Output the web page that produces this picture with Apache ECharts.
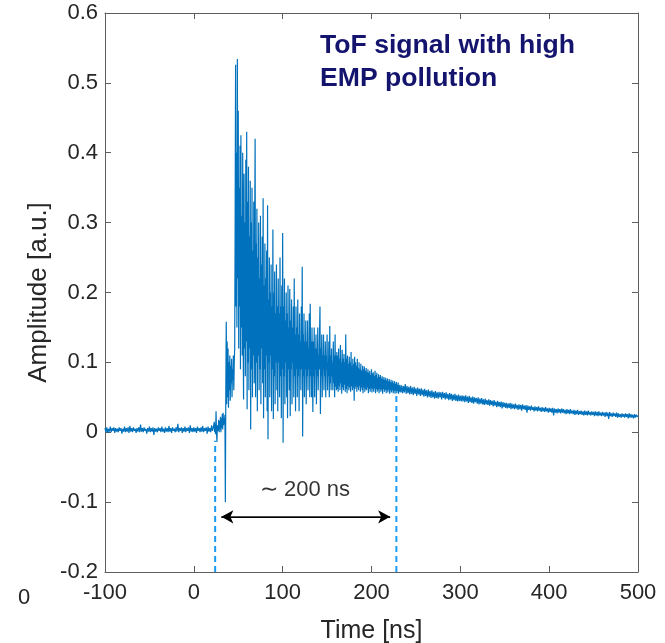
<!DOCTYPE html>
<html>
<head>
<meta charset="utf-8">
<script src="https://cdn.jsdelivr.net/npm/echarts@6/dist/echarts.min.js"></script>
<style>html,body{margin:0;padding:0;background:#fff;}#c{width:665px;height:643px;}</style>
</head>
<body>
<div id="c"></div>
<script>
// ---- axis settings ----
const xMin = -100, xMax = 500, xStep = 100;
const yMin = -0.2, yMax = 0.6, yStep = 0.1;
const xTitle = 'Time [ns]';
const yTitle = 'Amplitude [a.u.]';
const noteTitle = 'ToF signal with high\nEMP pollution';
const arrowText = '\u223C 200 ns';

const baselineStart = -100, baselineStep = 1;
const baseline = [0.006,0.000,0.007,-0.001,0.005,0.001,0.008,0.000,0.006,0.002,
0.007,-0.001,0.006,0.001,0.005,0.000,0.007,0.002,0.006,-0.002,
0.005,0.001,0.008,0.000,0.006,0.001,0.007,-0.001,0.009,0.001,
0.006,0.000,0.007,0.002,0.005,-0.001,0.006,0.001,0.007,0.000,
0.011,0.001,0.006,0.000,0.007,0.002,0.005,-0.002,0.006,0.001,
0.008,0.000,0.006,0.001,0.007,-0.004,0.006,0.001,0.005,0.000,
0.007,0.002,0.006,0.000,0.008,0.001,0.005,-0.001,0.007,0.001,
0.006,0.000,0.009,0.001,0.006,-0.001,0.007,0.002,0.005,0.000,
0.007,0.001,0.012,0.000,0.006,0.002,0.007,-0.001,0.006,0.001,
0.008,0.000,0.006,0.002,0.007,-0.001,0.010,0.001,0.006,0.000,
0.007,0.001,0.006,-0.001,0.008,0.002,0.006,0.000,0.007,0.001,
0.009,0.000,0.006,0.002,0.007,-0.002,0.008,0.001,0.006,0.000,
0.010,0.002,0.007];

const riseStart = 23, riseStep = 0.5;
const rise = [0.015,0.000, 0.012,-0.003, 0.030,0.002, -0.014,0.010, 0.012,0.002,
0.018,0.000, 0.016,0.004, 0.022,0.000, 0.020,0.006, 0.026,0.004,
0.028,0.010, 0.020,0.012, 0.025,-0.100, 0.060,0.158, 0.040,0.130,
0.050,0.120, 0.035,0.100, 0.060,0.110, 0.045,0.095, 0.070,0.105,
0.050,0.090, 0.075,0.110, 0.060,0.100];

const burstStart = 46, burstStep = 0.5;
const burst = [0.12,0.30, 0.526,0.18, 0.40,0.15, 0.534,0.22, 0.46,0.12,
0.35,0.18, 0.41,0.09, 0.425,0.15, 0.31,0.11, 0.40,0.13,
0.047,0.37, 0.12,0.30, 0.08,0.39, 0.13,0.43, 0.033,0.33,
0.10,0.38, 0.06,0.28, 0.12,0.36, 0.004,0.30, 0.09,0.35,
0.05,0.26, 0.11,0.33, 0.07,0.29, 0.42,0.05, 0.27,0.10,
0.32,0.03, 0.25,0.11, 0.30,0.06, 0.22,0.09, 0.31,0.04,
0.24,0.12, 0.28,0.07, 0.335,0.02, 0.21,0.09, 0.27,0.05,
0.22,0.11, 0.26,0.03, 0.325,-0.010, 0.19,0.10, 0.25,0.05,
0.20,0.11, 0.24,0.03, 0.18,0.09, 0.29,0.019, 0.20,0.08,
0.23,0.04, 0.17,0.10, 0.24,0.06, 0.18,0.03, 0.22,0.10,
0.17,0.05, 0.25,0.08, 0.18,0.02, 0.21,0.09, 0.285,-0.015,
0.18,0.08, 0.22,0.04, 0.16,0.10, 0.20,0.05, 0.17,0.02,
0.21,0.09, 0.15,0.06, 0.205,0.023, 0.16,0.09, 0.19,0.04,
0.15,0.10, 0.18,0.05, 0.22,0.08, 0.14,0.03, 0.18,0.09,
0.15,0.05, 0.19,0.08, 0.14,0.03, 0.17,0.09, 0.13,0.06,
0.18,0.09, 0.237,-0.006, 0.14,0.08, 0.17,0.05, 0.13,0.09,
0.16,0.04, 0.13,0.08, 0.16,0.06, 0.12,0.09, 0.17,0.05,
0.184,0.08, 0.13,0.05, 0.15,0.09, 0.029,0.13, 0.08,0.15,
0.05,0.12, 0.09,0.14, 0.04,0.12, 0.08,0.15, 0.06,0.11,
0.09,0.14, 0.18,0.026, 0.12,0.08, 0.14,0.05, 0.11,0.09,
0.14,0.06, 0.11,0.08, 0.13,0.05, 0.11,0.09, 0.14,0.06,
0.10,0.08, 0.13,0.05, 0.152,0.07, 0.11,0.06, 0.12,0.08,
0.10,0.06, 0.13,0.07, 0.11,0.05, 0.14,0.065, 0.11,0.06];

const decayStart = 161, decayStep = 0.5;
const decay = [0.115,0.062, 0.11,0.058, 0.12,0.066, 0.105,0.06, 0.125,0.07,
0.10,0.055, 0.118,0.064, 0.105,0.06, 0.112,0.068, 0.10,0.058,
0.14,0.062, 0.105,0.056, 0.11,0.066, 0.098,0.06, 0.108,0.064,
0.10,0.058, 0.115,0.066, 0.095,0.06, 0.105,0.064, 0.098,0.045,
0.108,0.062, 0.10,0.066, 0.095,0.058, 0.105,0.064, 0.092,0.06,
0.10,0.066, 0.09,0.058, 0.098,0.064, 0.088,0.06, 0.095,0.056,
0.09,0.064, 0.094,0.058, 0.088,0.062, 0.092,0.06, 0.086,0.064,
0.09,0.056, 0.085,0.062, 0.088,0.058, 0.082,0.063, 0.09,0.057,
0.084,0.062, 0.086,0.058, 0.08,0.063, 0.088,0.056, 0.082,0.062,
0.085,0.058, 0.078,0.061, 0.083,0.056, 0.079,0.062, 0.082,0.058,
0.077,0.061, 0.08,0.055, 0.076,0.062, 0.079,0.058, 0.075,0.061,
0.078,0.056, 0.074,0.06, 0.077,0.057, 0.073,0.061, 0.076,0.055,
0.072,0.06, 0.075,0.057, 0.071,0.06, 0.074,0.056, 0.07,0.059,
0.073,0.055, 0.069,0.06, 0.072,0.056, 0.068,0.059, 0.071,0.055,
0.067,0.058];

const tailStart = 232, tailStep = 1;
const tail = [0.068,0.057,0.067,0.056,0.066,0.057,0.069,0.055,0.066,0.056,
0.065,0.054,0.066,0.055,0.064,0.053,0.065,0.055,0.063,0.052,
0.064,0.054,0.062,0.052,0.063,0.053,0.061,0.051,0.062,0.052,
0.060,0.050,0.061,0.051,0.059,0.049,0.060,0.050,0.058,0.048,
0.059,0.049,0.057,0.048,0.058,0.050,0.057,0.047,0.058,0.049,
0.056,0.047,0.057,0.048,0.055,0.046,0.056,0.047,0.055,0.045,
0.054,0.046,0.055,0.045,0.053,0.044,0.054,0.045,0.052,0.044,
0.053,0.044,0.052,0.043,0.053,0.044,0.051,0.042,0.052,0.043,
0.050,0.042,0.051,0.041,0.050,0.043,0.049,0.041,0.050,0.040,
0.048,0.041,0.049,0.040,0.047,0.039,0.048,0.040,0.046,0.039,
0.047,0.038,0.046,0.039,0.045,0.037,0.046,0.038,0.044,0.036,
0.045,0.037,0.043,0.036,0.044,0.034,0.043,0.036,0.042,0.035,
0.042,0.034,0.041,0.035,0.042,0.033,0.041,0.034,0.040,0.033,
0.041,0.034,0.039,0.032,0.040,0.033,0.039,0.031,0.040,0.033,
0.038,0.032,0.039,0.028,0.038,0.032,0.037,0.031,0.038,0.032,
0.036,0.030,0.037,0.031,0.036,0.030,0.037,0.031,0.035,0.029,
0.036,0.030,0.035,0.029,0.036,0.030,0.034,0.028,0.035,0.029,
0.034,0.028,0.035,0.024,0.034,0.028,0.033,0.027,0.034,0.028,
0.033,0.027,0.034,0.028,0.033,0.027,0.032,0.026,0.033,0.027,
0.032,0.026,0.033,0.027,0.031,0.026,0.032,0.025,0.031,0.026,
0.032,0.025,0.030,0.026,0.031,0.025,0.030,0.024,0.031,0.025,
0.030,0.024,0.031,0.025,0.029,0.024,0.030,0.025,0.029,0.023,
0.030,0.024,0.029,0.023,0.030,0.024,0.028,0.023,0.029,0.024,
0.028,0.022,0.029,0.023,0.028,0.019,0.029,0.023,0.027,0.022,
0.028,0.023,0.027,0.022,0.028,0.021,0.027,0.022,0.026,0.021,
0.027,0.022,0.026,0.021,0.027,0.022,0.026,0.020,0.027,0.021,
0.026,0.021,0.025,0.020,0.026,0.021,0.025,0.022,0.024];

// ---- annotations (data units) ----
const dashLeft = [[24, -0.2], [24, -0.012]];
const dashRight = [[228, -0.2], [228, 0.058]];
const arrowFrom = [31, -0.121];
const arrowTo = [221, -0.121];
const arrowLabelAt = [125, -0.082];

const segments = [
  [baselineStart, baselineStep, baseline],
  [riseStart, riseStep, rise],
  [burstStart, burstStep, burst],
  [decayStart, decayStep, decay],
  [tailStart, tailStep, tail]
];
const signal = [];
segments.forEach(([t0, dt, vals]) => vals.forEach((v, i) => signal.push([t0 + i * dt, v])));

const axisColor = '#5e5e5e';
const textColor = '#262626';
const fontFam = '"Liberation Sans", Arial, Helvetica, sans-serif';

const chart = echarts.init(document.getElementById('c'), null, {renderer: 'canvas'});
chart.setOption({
  animation: false,
  backgroundColor: '#fff',
  grid: {left: 105, right: 27, top: 13, bottom: 71, containLabel: false, outerBoundsMode: 'none'},
  xAxis: [{
    type: 'value', min: xMin, max: xMax, interval: xStep,
    name: xTitle, nameLocation: 'middle', nameGap: 47, nameMoveOverlap: false,
    nameTextStyle: {fontSize: 25, color: textColor, fontFamily: fontFam},
    axisLine: {show: true, onZero: false, lineStyle: {color: axisColor, width: 1}},
    axisTick: {show: true, inside: true, length: 6, lineStyle: {color: axisColor}},
    axisLabel: {fontSize: 22, color: textColor, margin: 10, fontFamily: fontFam},
    splitLine: {show: false}
  }, {
    type: 'value', min: xMin, max: xMax, interval: xStep, position: 'top',
    axisLine: {show: true, onZero: false, lineStyle: {color: axisColor, width: 1}},
    axisTick: {show: true, inside: true, length: 6, lineStyle: {color: axisColor}},
    axisLabel: {show: false}, splitLine: {show: false}
  }],
  yAxis: [{
    type: 'value', min: yMin, max: yMax, interval: yStep,
    name: yTitle, nameLocation: 'middle', nameGap: 53, nameMoveOverlap: false,
    nameTextStyle: {fontSize: 26, color: textColor, fontFamily: fontFam},
    axisLine: {show: true, onZero: false, lineStyle: {color: axisColor, width: 1}},
    axisTick: {show: true, inside: true, length: 6, lineStyle: {color: axisColor}},
    axisLabel: {fontSize: 22, color: textColor, margin: 7, fontFamily: fontFam,
      formatter: v => String(Math.round(v * 10) / 10)},
    splitLine: {show: false}
  }, {
    type: 'value', min: yMin, max: yMax, interval: yStep, position: 'right',
    axisLine: {show: true, onZero: false, lineStyle: {color: axisColor, width: 1}},
    axisTick: {show: true, inside: true, length: 6, lineStyle: {color: axisColor}},
    axisLabel: {show: false}, splitLine: {show: false}
  }],
  series: [
    {
      type: 'line', data: dashLeft, showSymbol: false, silent: true,
      lineStyle: {color: '#1a9bf5', width: 2, type: [6, 4]}, z: 3
    },
    {
      type: 'line', data: dashRight, showSymbol: false, silent: true,
      lineStyle: {color: '#1a9bf5', width: 2, type: [6, 4]}, z: 3
    },
    {
      type: 'line', data: signal, showSymbol: false, silent: true,
      lineStyle: {color: '#0072BD', width: 1.2}, z: 2
    },
    {
      type: 'line', data: [arrowFrom, arrowTo], showSymbol: false, silent: true,
      lineStyle: {color: '#000', width: 1}, z: 4,
      markLine: {
        silent: true, symbol: ['arrow', 'arrow'], symbolSize: [10, 12],
        lineStyle: {color: '#000', width: 1, type: 'solid'}, label: {show: false},
        data: [[{coord: arrowFrom}, {coord: arrowTo}]]
      }
    },
    {
      type: 'scatter', data: [arrowLabelAt], symbolSize: 0, silent: true, z: 5,
      label: {show: true, position: 'inside', formatter: arrowText, fontSize: 22,
        color: '#000', fontFamily: fontFam}
    }
  ],
  graphic: [
    {type: 'text', left: 320, top: 29, z: 10,
      style: {text: noteTitle, fontSize: 26.6, fontWeight: 'bold', fill: '#14146e',
        fontFamily: fontFam, lineHeight: 33}},
    {type: 'text', left: 18, top: 587, z: 10,
      style: {text: '0', fontSize: 22, fill: textColor, fontFamily: fontFam}}
  ]
});
</script>
</body>
</html>
